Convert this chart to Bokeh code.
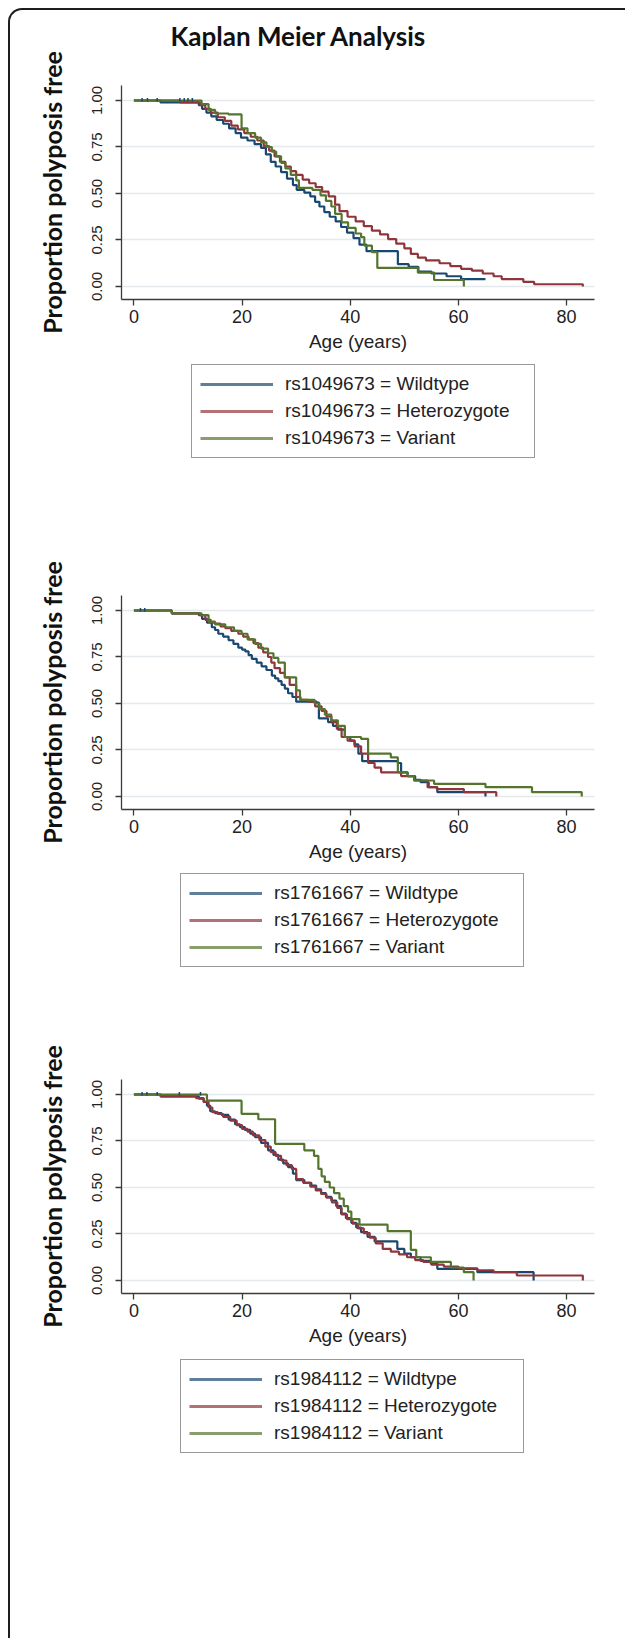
from bokeh.plotting import figure
from bokeh.models import Legend, LegendItem, FixedTicker, Range1d
from bokeh.layouts import column
from bokeh.embed import file_html
from bokeh.resources import INLINE

# ---------------- data ----------------
title_text = "Kaplan Meier Analysis"
x_label = "Age (years)"
y_label = "Proportion polyposis free"
x_ticks = [0, 20, 40, 60, 80]
y_ticks = [0.0, 0.25, 0.5, 0.75, 1.0]
y_tick_labels = ["0.00", "0.25", "0.50", "0.75", "1.00"]
groups = ["Wildtype", "Heterozygote", "Variant"]
snps = ["rs1049673", "rs1761667", "rs1984112"]

# panel 1 : rs1049673
p1_wt_age = [0, 4.9, 12.0, 12.6, 13.4, 14.3, 15.3, 16.5, 17.6, 18.8, 19.8, 21.0, 22.3, 23.5, 24.4, 25.3, 26.2, 27.2, 28.3, 29.4, 30.1, 31.5, 32.6, 33.5, 34.3, 35.2, 36.2, 37.3, 38.3, 39.4, 40.6, 41.7, 43.0, 48.8, 50.8, 52.6, 55.0, 57.8, 60.5, 65.0]
p1_wt_surv = [1.0, 0.99, 0.975, 0.955, 0.935, 0.915, 0.895, 0.875, 0.85, 0.825, 0.80, 0.785, 0.765, 0.745, 0.71, 0.67, 0.645, 0.615, 0.58, 0.545, 0.52, 0.505, 0.485, 0.455, 0.43, 0.40, 0.375, 0.35, 0.32, 0.29, 0.26, 0.225, 0.19, 0.12, 0.105, 0.08, 0.07, 0.055, 0.04, 0.04]
p1_het_age = [0, 8.5, 12.3, 13.2, 14.2, 15.5, 16.8, 18.0, 19.2, 20.4, 21.6, 22.8, 24.0, 25.0, 26.0, 27.0, 28.0, 29.0, 30.0, 31.2, 32.4, 33.6, 34.8, 36.0, 37.2, 38.0, 39.5, 41.0, 42.5, 44.0, 45.5, 47.0, 48.5, 50.0, 51.2, 52.5, 54.0, 56.5, 58.5, 60.5, 62.5, 64.5, 66.5, 68.0, 72.0, 74.0, 83.0, 83.0]
p1_het_surv = [1.0, 0.99, 0.975, 0.955, 0.935, 0.91, 0.89, 0.865, 0.845, 0.825, 0.805, 0.785, 0.755, 0.73, 0.70, 0.67, 0.645, 0.62, 0.60, 0.575, 0.555, 0.535, 0.51, 0.485, 0.44, 0.405, 0.375, 0.35, 0.325, 0.30, 0.28, 0.255, 0.23, 0.205, 0.175, 0.155, 0.14, 0.125, 0.11, 0.095, 0.085, 0.07, 0.055, 0.04, 0.025, 0.012, 0.012, 0.0]
p1_var_age = [0, 12.5, 13.8, 15.0, 17.5, 19.9, 21.0, 22.4, 23.5, 24.5, 25.5, 26.3, 27.2, 28.0, 29.0, 30.0, 30.5, 33.0, 34.5, 35.5, 36.5, 37.2, 38.4, 39.6, 41.0, 42.0, 42.6, 44.0, 45.0, 52.5, 55.5, 61.0, 61.0]
p1_var_surv = [1.0, 0.98, 0.95, 0.93, 0.925, 0.85, 0.825, 0.80, 0.775, 0.75, 0.725, 0.70, 0.665, 0.635, 0.60, 0.57, 0.53, 0.52, 0.49, 0.46, 0.43, 0.39, 0.345, 0.315, 0.285, 0.265, 0.22, 0.185, 0.10, 0.075, 0.035, 0.035, 0.0]
p1_censor = [1.5, 2.5, 4.3, 8.5, 9.3, 10.0, 10.8]

# panel 2 : rs1761667
p2_wt_age = [0, 7.0, 12.0, 12.6, 13.5, 14.4, 15.0, 15.6, 16.5, 17.5, 18.4, 19.3, 20.0, 20.6, 21.2, 21.8, 22.7, 23.6, 24.5, 25.5, 26.1, 26.7, 27.3, 27.9, 28.5, 29.3, 30.0, 33.8, 34.2, 35.9, 36.8, 37.7, 39.0, 40.0, 40.8, 41.5, 42.2, 48.8, 49.4, 50.6, 52.0, 53.0, 54.5, 56.1, 65.0, 65.0]
p2_wt_surv = [1.0, 0.985, 0.975, 0.955, 0.935, 0.91, 0.895, 0.875, 0.86, 0.84, 0.82, 0.80, 0.79, 0.78, 0.76, 0.74, 0.72, 0.70, 0.68, 0.65, 0.635, 0.62, 0.60, 0.58, 0.555, 0.535, 0.51, 0.505, 0.42, 0.40, 0.38, 0.36, 0.32, 0.30, 0.28, 0.23, 0.19, 0.18, 0.13, 0.11, 0.09, 0.077, 0.05, 0.023, 0.023, 0.0]
p2_het_age = [0, 7.0, 12.2, 13.2, 14.2, 15.0, 16.0, 16.9, 18.0, 19.3, 20.2, 21.2, 22.1, 23.0, 23.9, 24.8, 25.4, 26.0, 27.0, 27.9, 28.8, 30.0, 30.8, 32.2, 33.5, 34.7, 35.6, 36.5, 37.5, 38.4, 39.5, 40.8, 42.0, 43.3, 44.5, 45.7, 49.4, 51.8, 54.3, 56.0, 61.0, 67.0, 67.0]
p2_het_surv = [1.0, 0.985, 0.975, 0.95, 0.935, 0.93, 0.915, 0.905, 0.89, 0.875, 0.86, 0.845, 0.825, 0.80, 0.775, 0.75, 0.72, 0.69, 0.665, 0.64, 0.60, 0.535, 0.52, 0.51, 0.485, 0.46, 0.43, 0.40, 0.365, 0.32, 0.30, 0.27, 0.23, 0.18, 0.155, 0.13, 0.11, 0.086, 0.05, 0.04, 0.023, 0.023, 0.0]
p2_var_age = [0, 7.0, 12.5, 13.8, 15.0, 16.9, 18.5, 19.9, 21.0, 22.4, 23.5, 24.8, 25.8, 26.7, 27.9, 29.0, 30.0, 30.7, 33.4, 34.3, 35.3, 36.5, 37.7, 39.0, 42.0, 43.3, 47.5, 48.8, 50.6, 51.8, 55.5, 65.0, 73.6, 82.8, 82.8]
p2_var_surv = [1.0, 0.985, 0.975, 0.94, 0.925, 0.91, 0.89, 0.875, 0.845, 0.82, 0.795, 0.77, 0.745, 0.72, 0.64, 0.64, 0.57, 0.52, 0.50, 0.47, 0.44, 0.41, 0.38, 0.32, 0.31, 0.23, 0.21, 0.13, 0.11, 0.086, 0.068, 0.05, 0.023, 0.023, 0.0]
p2_censor = [1.2, 2.0]

# panel 3 : rs1984112
p3_wt_age = [0, 4.9, 12.0, 12.9, 13.5, 14.1, 15.0, 16.2, 17.5, 18.7, 19.6, 20.5, 21.5, 22.4, 23.5, 24.8, 25.8, 26.7, 27.6, 28.5, 29.4, 30.0, 31.5, 32.8, 33.7, 34.6, 35.5, 36.5, 37.4, 38.3, 39.2, 40.2, 41.1, 42.0, 43.2, 44.5, 48.7, 50.0, 51.2, 53.0, 54.9, 56.1, 63.5, 73.9, 73.9]
p3_wt_surv = [1.0, 0.99, 0.977, 0.96, 0.94, 0.91, 0.90, 0.89, 0.865, 0.84, 0.825, 0.81, 0.79, 0.77, 0.74, 0.70, 0.675, 0.65, 0.63, 0.61, 0.575, 0.54, 0.525, 0.51, 0.49, 0.47, 0.45, 0.43, 0.40, 0.36, 0.335, 0.31, 0.285, 0.26, 0.235, 0.21, 0.17, 0.145, 0.125, 0.105, 0.09, 0.063, 0.045, 0.045, 0.0]
p3_het_age = [0, 5.0, 11.5, 12.9, 13.8, 14.5, 15.5, 16.5, 17.8, 19.0, 20.0, 21.0, 22.0, 23.2, 24.3, 25.3, 26.2, 27.2, 28.2, 29.2, 30.0, 31.3, 32.6, 33.6, 34.6, 35.6, 36.6, 37.6, 38.4, 39.4, 40.4, 41.4, 42.5, 43.6, 44.7, 46.0, 47.5, 49.0, 50.5, 52.0, 53.5, 55.0, 57.3, 60.0, 63.5, 66.5, 70.8, 83.0, 83.0]
p3_het_surv = [1.0, 0.99, 0.98, 0.96, 0.93, 0.905, 0.895, 0.88, 0.86, 0.835, 0.815, 0.80, 0.78, 0.755, 0.72, 0.69, 0.67, 0.645, 0.62, 0.60, 0.545, 0.525, 0.505, 0.485, 0.465, 0.445, 0.42, 0.39, 0.355, 0.33, 0.305, 0.28, 0.255, 0.23, 0.20, 0.17, 0.155, 0.14, 0.125, 0.11, 0.10, 0.085, 0.075, 0.065, 0.055, 0.045, 0.027, 0.027, 0.0]
p3_var_age = [0, 12.3, 13.5, 19.9, 23.0, 26.1, 31.5, 33.3, 34.1, 34.7, 35.3, 36.2, 37.0, 38.0, 38.8, 39.6, 40.2, 41.7, 46.9, 51.2, 52.2, 54.9, 58.6, 61.0, 62.8, 62.8]
p3_var_surv = [1.0, 1.0, 0.967, 0.896, 0.867, 0.735, 0.70, 0.67, 0.60, 0.56, 0.53, 0.50, 0.47, 0.44, 0.40, 0.37, 0.33, 0.30, 0.265, 0.165, 0.125, 0.10, 0.07, 0.045, 0.045, 0.0]
p3_censor = [1.5, 2.4, 4.3, 8.4, 12.3]

# ---------------- style ----------------
colors = ["#1a476f", "#90353b", "#55752f"]
AXIS_COL = "#3a3a3a"
GRID_COL = "#e3e9ec"
FIG_W = 615
TOP = 75
FRAME_H = 214
BOTTOM = 64
X_RANGE = (-2.3, 85.16)
Y_RANGE = (-0.0699, 1.0806)


def make_plot(series, censor, left, right, title=None):
    p = figure(width=FIG_W, height=TOP + FRAME_H + BOTTOM,
               x_range=Range1d(*X_RANGE), y_range=Range1d(*Y_RANGE),
               output_backend="svg", toolbar_location=None,
               min_border_left=left, min_border_right=right,
               min_border_top=TOP, min_border_bottom=BOTTOM)
    p.background_fill_color = "white"
    p.border_fill_color = None
    p.outline_line_color = None

    p.xgrid.visible = False
    p.ygrid.ticker = FixedTicker(ticks=y_ticks)
    p.ygrid.grid_line_color = GRID_COL
    p.ygrid.grid_line_width = 1.5

    p.xaxis.ticker = FixedTicker(ticks=x_ticks)
    p.yaxis.ticker = FixedTicker(ticks=y_ticks)
    p.yaxis.major_label_overrides = {t: l for t, l in zip(y_ticks, y_tick_labels)}
    p.yaxis.major_label_orientation = "vertical"

    for ax in (p.xaxis, p.yaxis):
        ax.axis_line_color = AXIS_COL
        ax.axis_line_width = 1.3
        ax.major_tick_line_color = AXIS_COL
        ax.major_tick_line_width = 1.3
        ax.major_tick_out = 6
        ax.major_tick_in = 0
        ax.minor_tick_out = 0
        ax.minor_tick_in = 0
        ax.major_label_text_font = "Liberation Sans"
        ax.major_label_text_color = "#222222"

    p.xaxis.major_label_text_font_size = "18px"
    p.xaxis.major_label_standoff = 4
    p.yaxis.major_label_text_font_size = "15px"
    p.yaxis.major_label_standoff = 13

    p.xaxis.axis_label = x_label
    p.xaxis.axis_label_text_font = "Liberation Sans"
    p.xaxis.axis_label_text_font_style = "normal"
    p.xaxis.axis_label_text_font_size = "19px"
    p.xaxis.axis_label_text_color = "#222222"
    p.xaxis.axis_label_standoff = 5

    p.yaxis.axis_label = y_label
    p.yaxis.axis_label_text_font = "Lato"
    p.yaxis.axis_label_text_font_style = "bold"
    p.yaxis.axis_label_text_font_size = "25px"
    p.yaxis.axis_label_text_color = "#111111"
    p.yaxis.axis_label_standoff = 23

    for (ages, survs), c in zip(series, colors):
        p.step(x=ages, y=survs, mode="after", line_color=c, line_width=2.2)

    p.segment(x0=censor, y0=[0.995] * len(censor), x1=censor, y1=[1.013] * len(censor),
              line_color=colors[0], line_width=1.5)

    if title:
        p.title.text = title + "\n"
        p.title.text_font = "Lato"
        p.title.text_font_style = "bold"
        p.title.text_font_size = "26px"
        p.title.text_line_height = 1.0
        p.title.text_color = "#111111"
        p.title.align = "left"
        p.title.offset = 49
        p.title.standoff = 4
    return p


def make_legend(snp, series, height, loc):
    # legend-only strip: the same curves are plotted, but the y range lies above them,
    # so only the legend (keys + labels) shows
    q = figure(width=FIG_W, height=height, x_range=Range1d(*X_RANGE), y_range=Range1d(5, 6),
               output_backend="svg", toolbar_location=None,
               x_axis_location=None, y_axis_location=None,
               min_border=0)
    q.grid.visible = False
    q.outline_line_color = None
    q.background_fill_color = None
    q.border_fill_color = None
    items = []
    for (ages, survs), g, c in zip(series, groups, colors):
        r = q.step(x=ages, y=survs, mode="after", line_color=c, line_width=3, line_alpha=0.7)
        items.append(LegendItem(label=f"{snp} = {g}", renderers=[r]))
    legend = Legend(items=items, location=loc, orientation="vertical",
                    label_text_font="Liberation Sans", label_text_font_size="19px",
                    label_text_color="#222222",
                    glyph_width=73, glyph_height=22, label_height=22,
                    label_standoff=12, label_width=241, padding=8, spacing=5,
                    border_line_color="#333333", border_line_width=1.5,
                    background_fill_color="white", background_fill_alpha=1.0,
                    margin=0)
    q.add_layout(legend)
    return q


s1 = [(p1_wt_age, p1_wt_surv), (p1_het_age, p1_het_surv), (p1_var_age, p1_var_surv)]
s2 = [(p2_wt_age, p2_wt_surv), (p2_het_age, p2_het_surv), (p2_var_age, p2_var_surv)]
s3 = [(p3_wt_age, p3_wt_surv), (p3_het_age, p3_het_surv), (p3_var_age, p3_var_surv)]

p1 = make_plot(s1, p1_censor, 111, 29, title=title_text)
l1 = make_legend(snps[0], s1, 157, (70, 62))
p2 = make_plot(s2, p2_censor, 111, 29)
l2 = make_legend(snps[1], s2, 131, (59, 37))
p3 = make_plot(s3, p3_censor, 108, 31)
l3 = make_legend(snps[2], s3, 281, (59, 185))

layout = column(p1, l1, p2, l2, p3, l3,
                styles={"margin-left": "8px", "margin-top": "8px",
                        "border-left": "2px solid #1e1e1e",
                        "border-top": "2px solid #1e1e1e",
                        "border-top-left-radius": "14px"})

open("out.html", "w").write(file_html(layout, INLINE))
